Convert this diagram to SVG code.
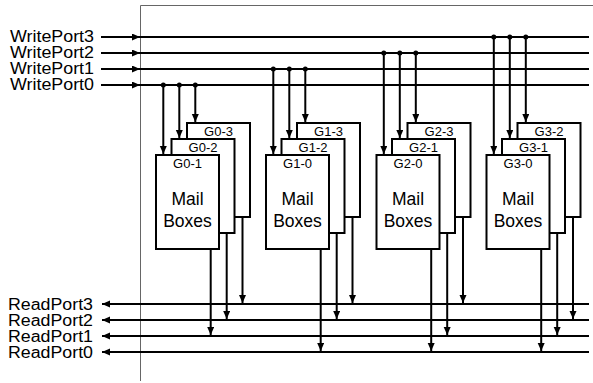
<svg xmlns="http://www.w3.org/2000/svg" width="593" height="383" viewBox="0 0 593 383">
<style>
text{font-family:"Liberation Sans",Arial,Helvetica,sans-serif;fill:#000}
.port{font-size:16px;text-anchor:end}
.gl{font-size:13px;text-anchor:middle}
.mb{font-size:17.5px;text-anchor:middle}
.box{fill:#fff;stroke:#000;stroke-width:2}
.w{stroke:#000;stroke-width:2;fill:none}
.a{stroke:#000;stroke-width:2;fill:none;marker-end:url(#ah)}
.frame{stroke:#666;stroke-width:1;fill:none}
</style>
<defs>
<marker id="ah" markerUnits="userSpaceOnUse" markerWidth="8" markerHeight="8" refX="8" refY="3.5" orient="auto">
<path d="M0,0 L8,3.5 L0,7 z" fill="#000"/>
</marker>
</defs>
<rect width="593" height="383" fill="#fff"/>
<path class="frame" d="M140.5,381 V5.5 H593"/>

<g id="ports">
<text class="port" x="94" y="41.5" textLength="84" lengthAdjust="spacingAndGlyphs">WritePort3</text>
<text class="port" x="94" y="57.5" textLength="84" lengthAdjust="spacingAndGlyphs">WritePort2</text>
<text class="port" x="94" y="73.5" textLength="84" lengthAdjust="spacingAndGlyphs">WritePort1</text>
<text class="port" x="94" y="89.5" textLength="84" lengthAdjust="spacingAndGlyphs">WritePort0</text>
<text class="port" x="93" y="309.5" textLength="85" lengthAdjust="spacingAndGlyphs">ReadPort3</text>
<text class="port" x="93" y="325.5" textLength="85" lengthAdjust="spacingAndGlyphs">ReadPort2</text>
<text class="port" x="93" y="341.5" textLength="85" lengthAdjust="spacingAndGlyphs">ReadPort1</text>
<text class="port" x="93" y="357.5" textLength="85" lengthAdjust="spacingAndGlyphs">ReadPort0</text>
</g>

<g id="G0">
<g id="G0-3"><rect class="box" x="187" y="123" width="63" height="94"/><text class="gl" x="218.5" y="136">G0-3</text></g>
<g id="G0-2"><rect class="box" x="171.5" y="139" width="63" height="94"/><text class="gl" x="203" y="152">G0-2</text></g>
<g id="G0-1"><rect class="box" x="156" y="155" width="63" height="94"/><text class="gl" x="187.5" y="168">G0-1</text><text class="mb" x="187.5" y="205">Mail</text><text class="mb" x="187.5" y="226.5">Boxes</text></g>
</g>
<g id="G1">
<g id="G1-3"><rect class="box" x="297" y="123" width="63" height="94"/><text class="gl" x="328.5" y="136">G1-3</text></g>
<g id="G1-2"><rect class="box" x="281.5" y="139" width="63" height="94"/><text class="gl" x="313" y="152">G1-2</text></g>
<g id="G1-0"><rect class="box" x="266" y="155" width="63" height="94"/><text class="gl" x="297.5" y="168">G1-0</text><text class="mb" x="297.5" y="205">Mail</text><text class="mb" x="297.5" y="226.5">Boxes</text></g>
</g>
<g id="G2">
<g id="G2-3"><rect class="box" x="407.5" y="123" width="63" height="94"/><text class="gl" x="439" y="136">G2-3</text></g>
<g id="G2-1"><rect class="box" x="392" y="139" width="63" height="94"/><text class="gl" x="423.5" y="152">G2-1</text></g>
<g id="G2-0"><rect class="box" x="376.5" y="155" width="63" height="94"/><text class="gl" x="408" y="168">G2-0</text><text class="mb" x="408" y="205">Mail</text><text class="mb" x="408" y="226.5">Boxes</text></g>
</g>
<g id="G3">
<g id="G3-2"><rect class="box" x="517.5" y="123" width="63" height="94"/><text class="gl" x="549" y="136">G3-2</text></g>
<g id="G3-1"><rect class="box" x="502" y="139" width="63" height="94"/><text class="gl" x="533.5" y="152">G3-1</text></g>
<g id="G3-0"><rect class="box" x="486.5" y="155" width="63" height="94"/><text class="gl" x="518" y="168">G3-0</text><text class="mb" x="518" y="205">Mail</text><text class="mb" x="518" y="226.5">Boxes</text></g>
</g>

<g id="connectors">
<line class="a" x1="101" y1="37" x2="140" y2="37"/><line class="w" x1="139" y1="37" x2="589" y2="37"/>
<line class="a" x1="101" y1="53" x2="140" y2="53"/><line class="w" x1="139" y1="53" x2="589" y2="53"/>
<line class="a" x1="101" y1="69" x2="140" y2="69"/><line class="w" x1="139" y1="69" x2="589" y2="69"/>
<line class="a" x1="101" y1="85" x2="140" y2="85"/><line class="w" x1="139" y1="85" x2="589" y2="85"/>
<line class="a" x1="589" y1="304" x2="102" y2="304"/>
<line class="a" x1="589" y1="320" x2="102" y2="320"/>
<line class="a" x1="589" y1="336" x2="102" y2="336"/>
<line class="a" x1="589" y1="352" x2="102" y2="352"/>
<g fill="#000">
<circle cx="163.3" cy="85" r="2.5"/><circle cx="179.3" cy="85" r="2.5"/><circle cx="195.3" cy="85" r="2.5"/>
<circle cx="273.3" cy="69" r="2.5"/><circle cx="289.3" cy="69" r="2.5"/><circle cx="305.3" cy="69" r="2.5"/>
<circle cx="383.8" cy="53" r="2.5"/><circle cx="399.8" cy="53" r="2.5"/><circle cx="415.8" cy="53" r="2.5"/>
<circle cx="493.8" cy="37" r="2.5"/><circle cx="509.8" cy="37" r="2.5"/><circle cx="525.8" cy="37" r="2.5"/>
</g>
<line class="a" x1="163.3" y1="85" x2="163.3" y2="154"/>
<line class="a" x1="179.3" y1="85" x2="179.3" y2="138"/>
<line class="a" x1="195.3" y1="85" x2="195.3" y2="122"/>
<line class="a" x1="273.3" y1="69" x2="273.3" y2="154"/>
<line class="a" x1="289.3" y1="69" x2="289.3" y2="138"/>
<line class="a" x1="305.3" y1="69" x2="305.3" y2="122"/>
<line class="a" x1="383.8" y1="53" x2="383.8" y2="154"/>
<line class="a" x1="399.8" y1="53" x2="399.8" y2="138"/>
<line class="a" x1="415.8" y1="53" x2="415.8" y2="122"/>
<line class="a" x1="493.8" y1="37" x2="493.8" y2="154"/>
<line class="a" x1="509.8" y1="37" x2="509.8" y2="138"/>
<line class="a" x1="525.8" y1="37" x2="525.8" y2="122"/>
<line class="a" x1="210.7" y1="250" x2="210.7" y2="335"/>
<line class="a" x1="226.7" y1="234" x2="226.7" y2="319"/>
<line class="a" x1="242.5" y1="218" x2="242.5" y2="303"/>
<line class="a" x1="320.7" y1="250" x2="320.7" y2="351"/>
<line class="a" x1="336.7" y1="234" x2="336.7" y2="319"/>
<line class="a" x1="352.5" y1="218" x2="352.5" y2="303"/>
<line class="a" x1="431.2" y1="250" x2="431.2" y2="351"/>
<line class="a" x1="447.2" y1="234" x2="447.2" y2="335"/>
<line class="a" x1="463" y1="218" x2="463" y2="303"/>
<line class="a" x1="541.2" y1="250" x2="541.2" y2="351"/>
<line class="a" x1="557.2" y1="234" x2="557.2" y2="335"/>
<line class="a" x1="573" y1="218" x2="573" y2="319"/>
</g>
</svg>
